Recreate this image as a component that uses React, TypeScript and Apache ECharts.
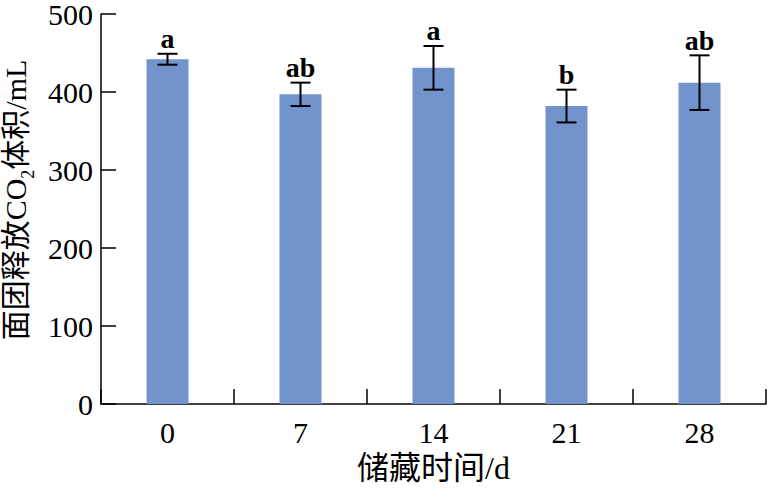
import React, { useEffect, useRef } from "react";
import * as echarts from "echarts";

const categories = ["0", "7", "14", "21", "28"];
const means = [442, 397, 431, 382, 412];
const errors = [7, 15, 28, 21, 35];
const letters = ["a", "ab", "a", "b", "ab"];
const yTicks = { min: 0, max: 500, interval: 100 };

const FONT = "'Liberation Serif', 'Times New Roman', 'Noto Sans CJK SC', serif";

export default function App() {
  const ref = useRef<HTMLDivElement>(null);
  useEffect(() => {
    if (!ref.current) return;
    const chart = echarts.init(ref.current, null, { renderer: "svg" });
    const errData = means.map((m, i) => [i, m - errors[i], m + errors[i]]);
    chart.setOption({
      animation: false,
      grid: { left: 101, right: 3, top: 14, bottom: 84, containLabel: false, outerBoundsMode: "none" },
      xAxis: {
        type: "category",
        data: categories,
        name: "储藏时间/d",
        nameLocation: "middle",
        nameGap: 46,
        nameTextStyle: { fontFamily: FONT, fontSize: 32, color: "#000" },
        axisLine: { lineStyle: { color: "#000", width: 1.5 } },
        axisTick: { show: true, inside: true, length: 15, lineStyle: { color: "#000", width: 1.5 } },
        axisLabel: { fontFamily: FONT, fontSize: 30, color: "#000", margin: 13 },
      },
      yAxis: {
        type: "value",
        min: yTicks.min,
        max: yTicks.max,
        interval: yTicks.interval,
        name: "面团释放CO{sub|2}体积/mL",
        nameLocation: "middle",
        nameGap: 63,
        nameRotate: 90,
        nameTextStyle: {
          fontFamily: FONT,
          fontSize: 30,
          lineHeight: 32,
          color: "#000",
          padding: [0, 0, 0, 18],
          rich: {
            sub: { fontFamily: FONT, fontSize: 18, lineHeight: 32, color: "#000", verticalAlign: "bottom", padding: [0, 0, -6, 0] },
          },
        },
        axisLine: { show: true, lineStyle: { color: "#000", width: 1.5 } },
        axisTick: { show: true, inside: true, length: 15, lineStyle: { color: "#000", width: 1.5 } },
        axisLabel: { fontFamily: FONT, fontSize: 30, lineHeight: 26, color: "#000", margin: 8 },
        splitLine: { show: false },
      },
      series: [
        {
          type: "bar",
          data: means,
          barWidth: 42,
          itemStyle: { color: "#7293cb" },
        },
        {
          type: "custom",
          data: errData,
          z: 10,
          renderItem: (params: any, api: any) => {
            const x = api.value(0);
            const lo = api.coord([x, api.value(1)]);
            const hi = api.coord([x, api.value(2)]);
            const half = 10;
            const style = { stroke: "#000", lineWidth: 2 };
            return {
              type: "group",
              children: [
                { type: "line", shape: { x1: lo[0], y1: lo[1], x2: hi[0], y2: hi[1] }, style },
                { type: "line", shape: { x1: lo[0] - half, y1: lo[1], x2: lo[0] + half, y2: lo[1] }, style },
                { type: "line", shape: { x1: hi[0] - half, y1: hi[1], x2: hi[0] + half, y2: hi[1] }, style },
                {
                  type: "text",
                  x: hi[0],
                  y: hi[1] - 1,
                  style: {
                    text: letters[params.dataIndex],
                    fontFamily: FONT,
                    fontSize: 28,
                    fontWeight: "bold",
                    fill: "#000",
                    align: "center",
                    verticalAlign: "bottom",
                  },
                },
              ],
            };
          },
        },
      ],
    });
    return () => chart.dispose();
  }, []);
  return <div ref={ref} style={{ width: 769, height: 488, position: "absolute", left: 0, top: 0 }} />;
}
